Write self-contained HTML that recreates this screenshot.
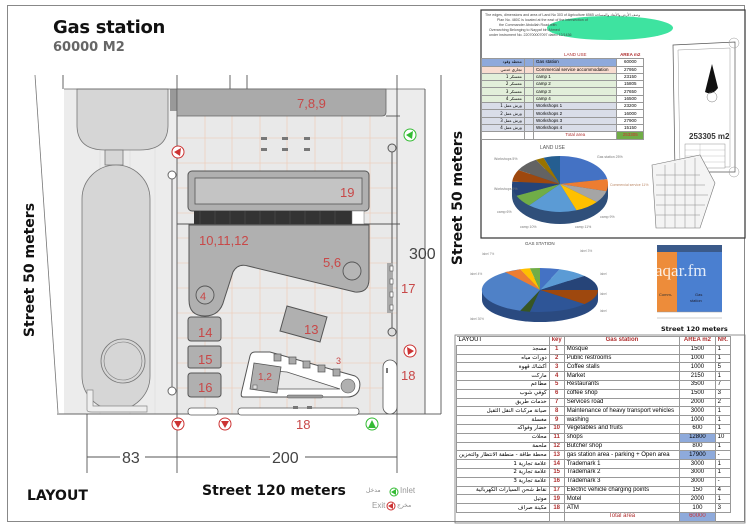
<!DOCTYPE html>
<html><head><meta charset="utf-8">
<style>
html,body{margin:0;padding:0;background:#fff;}
body{width:750px;height:530px;position:relative;overflow:hidden;font-family:"Liberation Sans","DejaVu Sans",sans-serif;}
.t{position:absolute;white-space:nowrap;}
table.g{position:absolute;border-collapse:collapse;font-size:6px;line-height:7px;}
table.g td{border:1px solid #999;padding:0 2px;height:7.8px;overflow:hidden;white-space:nowrap;}
table.s td{height:6.3px;line-height:6px;padding:0 2px;}
.ar{text-align:right;font-family:"DejaVu Sans",sans-serif;font-size:5.5px;}
.k{color:#b03030;font-weight:bold;text-align:center;}
.n{text-align:center;}
</style></head><body>
<svg width="750" height="530" style="position:absolute;left:0;top:0" xmlns="http://www.w3.org/2000/svg">
<rect x="7.5" y="5.5" width="737" height="516" fill="none" stroke="#888" stroke-width="1"/>
<rect x="64" y="89" width="361" height="325" fill="#ececec"/>
<rect x="177" y="116" width="220" height="298" fill="#e9e9e9"/>
<g stroke="#f0c8b0" stroke-width="0.6">
<line x1="205" y1="89" x2="205" y2="414"/><line x1="232" y1="89" x2="232" y2="414"/><line x1="260" y1="89" x2="260" y2="414"/><line x1="287" y1="89" x2="287" y2="414"/><line x1="315" y1="89" x2="315" y2="414"/><line x1="342" y1="89" x2="342" y2="414"/><line x1="370" y1="89" x2="370" y2="414"/>
<line x1="177" y1="138" x2="397" y2="138"/><line x1="177" y1="163" x2="397" y2="163"/><line x1="177" y1="188" x2="397" y2="188"/><line x1="177" y1="213" x2="397" y2="213"/><line x1="177" y1="238" x2="397" y2="238"/><line x1="177" y1="263" x2="397" y2="263"/><line x1="177" y1="288" x2="397" y2="288"/><line x1="177" y1="313" x2="397" y2="313"/><line x1="177" y1="338" x2="397" y2="338"/><line x1="177" y1="363" x2="397" y2="363"/><line x1="177" y1="388" x2="397" y2="388"/>
</g>
<g stroke="#dcdcdc" stroke-width="0.6"><line x1="100" y1="89" x2="100" y2="414"/><line x1="130" y1="89" x2="130" y2="414"/><line x1="155" y1="89" x2="155" y2="414"/></g>
<path d="M77,89 H168 V125 Q168,150 140,150 H105 Q77,150 77,125 Z" fill="#d6d6d6" stroke="#777" stroke-width="0.8"/>
<rect x="105" y="150" width="18" height="15" fill="#d6d6d6" stroke="#777" stroke-width="0.8"/>
<rect x="82" y="165" width="68" height="245" rx="34" fill="#d6d6d6" stroke="#777" stroke-width="0.8"/>
<circle cx="123" cy="361" r="22" fill="#d6d6d6" stroke="#777" stroke-width="0.8"/>
<circle cx="123" cy="361" r="19" fill="none" stroke="#777" stroke-width="0.6"/>
<path d="M87,390 V410 Q87,412 92,412 H147 V406 H93 V390 Z" fill="#eee" stroke="#888" stroke-width="0.7"/>
<rect x="170" y="89" width="7" height="22" fill="#999"/>
<line x1="35" y1="75" x2="58" y2="413" stroke="#777" stroke-width="0.8"/>
<line x1="57" y1="414" x2="441" y2="414" stroke="#666" stroke-width="1"/>
<line x1="64" y1="89" x2="425" y2="89" stroke="#666" stroke-width="0.8"/>
<g stroke="#555" stroke-width="0.9">
<line x1="63" y1="75" x2="63" y2="89"/><line x1="87" y1="414" x2="87" y2="473"/>
<line x1="177" y1="75" x2="177" y2="473"/><line x1="397" y1="75" x2="397" y2="473"/>
<line x1="425" y1="89" x2="425" y2="414"/><line x1="441" y1="75" x2="441" y2="414"/>
<line x1="230" y1="75" x2="230" y2="89"/><line x1="247" y1="75" x2="247" y2="89"/>
<line x1="87" y1="457" x2="120" y2="457"/><line x1="145" y1="457" x2="270" y2="457"/><line x1="305" y1="457" x2="397" y2="457"/>
<line x1="386" y1="116" x2="400" y2="116"/><line x1="177" y1="224" x2="400" y2="224"/>
</g>
<path d="M177,89 H386 V112 Q386,116 382,116 H177 Z" fill="#aaa" stroke="#666" stroke-width="0.8"/>
<g fill="#777"><rect x="261" y="137" width="6" height="3"/><rect x="282" y="137" width="6" height="3"/><rect x="304" y="137" width="6" height="3"/><rect x="261" y="148" width="6" height="3"/><rect x="282" y="148" width="6" height="3"/><rect x="304" y="148" width="6" height="3"/></g>
<rect x="188" y="171" width="181" height="40" rx="4" fill="#b0b0b0" stroke="#555" stroke-width="1"/>
<rect x="195" y="178" width="167" height="26" fill="#c4c4c4" stroke="#555" stroke-width="0.8"/>
<rect x="194" y="211" width="158" height="13" fill="#333"/>
<rect x="352" y="211" width="12" height="13" fill="#fff" stroke="#777" stroke-width="0.5"/>
<g stroke="#555" stroke-width="0.5"><line x1="200" y1="211" x2="200" y2="224"/><line x1="215" y1="211" x2="215" y2="224"/><line x1="230" y1="211" x2="230" y2="224"/><line x1="245" y1="211" x2="245" y2="224"/><line x1="260" y1="211" x2="260" y2="224"/><line x1="275" y1="211" x2="275" y2="224"/><line x1="290" y1="211" x2="290" y2="224"/><line x1="305" y1="211" x2="305" y2="224"/><line x1="320" y1="211" x2="320" y2="224"/><line x1="335" y1="211" x2="335" y2="224"/></g>
<path d="M189,225 H369 V279 Q369,293 355,292 L248,266 Q238,263 233,272 L224,300 Q220,316 205,316 Q189,316 189,300 Z" fill="#b0b0b0" stroke="#555" stroke-width="1"/>
<circle cx="205" cy="295" r="9" fill="#b6b6b6" stroke="#555" stroke-width="0.9"/>
<circle cx="352" cy="271" r="9" fill="#b6b6b6" stroke="#555" stroke-width="0.9"/>
<line x1="172" y1="175" x2="172" y2="390" stroke="#666" stroke-width="1"/>
<circle cx="172" cy="175" r="4" fill="#fff" stroke="#666"/><circle cx="172" cy="391" r="4" fill="#fff" stroke="#666"/>
<rect x="188" y="317" width="33" height="24" rx="3" fill="#b0b0b0" stroke="#555"/>
<rect x="188" y="346" width="33" height="22" rx="2" fill="#b0b0b0" stroke="#555"/>
<rect x="188" y="373" width="33" height="24" rx="3" fill="#b0b0b0" stroke="#555"/>
<polygon points="287,306 327,317 320,342 280,331" fill="#b0b0b0" stroke="#555"/>
<path d="M255,352 H270 L355,376 Q362,380 359,390 Q356,397 347,397 H243 Q240,397 242,390 L250,356 Q251,352 255,352 Z" fill="#fff" stroke="#555" stroke-width="1"/>
<path d="M262,370 L287,372 L340,389 L262,389 Z" fill="#e9e9e9" stroke="#555" stroke-width="0.8"/>
<polygon points="254,363 281,367 277,393 250,389" fill="#b0b0b0" stroke="#555" stroke-width="0.8"/>
<circle cx="348" cy="386" r="7" fill="#b0b0b0" stroke="#555" stroke-width="0.6"/>
<rect x="253" y="385" width="4" height="4" fill="#ddd" stroke="#555" stroke-width="0.5"/>
<g fill="#aaa" stroke="#555" stroke-width="0.7"><rect x="274" y="354" width="7" height="7"/><rect x="289" y="357" width="7" height="7"/><rect x="303" y="361" width="7" height="7"/><rect x="318" y="365" width="7" height="7"/><rect x="333" y="369" width="7" height="7"/></g>
<rect x="287" y="395" width="36" height="3" rx="1.5" fill="#999" stroke="#555" stroke-width="0.5"/>
<rect x="188" y="408" width="30" height="7" rx="3" fill="#fff" stroke="#555" stroke-width="0.8"/>
<rect x="238" y="408" width="121" height="7" rx="3" fill="#fff" stroke="#555" stroke-width="0.8"/>
<rect x="293" y="406" width="5" height="3" fill="#777"/><rect x="307" y="406" width="5" height="3" fill="#777"/>
<line x1="392" y1="147" x2="392" y2="332" stroke="#555" stroke-width="1"/>
<circle cx="392" cy="148" r="4" fill="#ddd" stroke="#555"/><circle cx="392" cy="332" r="4" fill="#ddd" stroke="#555"/>
<rect x="387" y="263" width="6" height="50" fill="#aaa"/>
<g fill="#fff" stroke="#555" stroke-width="0.6"><rect x="390" y="266" width="3" height="5"/><rect x="390" y="279" width="3" height="5"/><rect x="390" y="292" width="3" height="5"/><rect x="390" y="305" width="3" height="5"/></g>
<rect x="383" y="360" width="14" height="54" rx="7" fill="#fff" stroke="#555" stroke-width="0.8"/>
<rect x="386" y="368" width="2" height="5" fill="#777"/>
<g stroke-width="1">
<circle cx="178" cy="152" r="6" fill="#fff" stroke="#c33"/><polygon points="174,152 181,148 180,156" fill="#c33"/>
<circle cx="178" cy="424" r="6" fill="#fff" stroke="#c33"/><polygon points="174,421 182,421 178,428" fill="#c33"/>
<circle cx="225" cy="424" r="6" fill="#fff" stroke="#c33"/><polygon points="221,421 229,421 225,428" fill="#c33"/>
<circle cx="410" cy="351" r="6" fill="#fff" stroke="#c33"/><polygon points="414,351 407,347 408,355" fill="#c33"/>
<circle cx="410" cy="135" r="6" fill="#fff" stroke="#3b3"/><polygon points="406,135 413,131 412,139" fill="#3b3"/>
<circle cx="372" cy="424" r="6" fill="#fff" stroke="#3b3"/><polygon points="372,420 368,428 376,428" fill="#3b3"/>
<circle cx="394" cy="492" r="4" fill="#fff" stroke="#3b3"/><polygon points="391,492 396,489 396,495" fill="#3b3"/>
<circle cx="391" cy="506" r="4" fill="#fff" stroke="#c33"/><polygon points="388,506 393,503 393,509" fill="#c33"/>
</g>
<g fill="#c84848" font-family="Liberation Sans,sans-serif" font-size="13">
<text x="297" y="108">7,8,9</text>
<text x="340" y="197">19</text>
<text x="199" y="245">10,11,12</text>
<text x="323" y="267">5,6</text>
<text x="200" y="300" font-size="11">4</text>
<text x="198" y="337">14</text>
<text x="198" y="364">15</text>
<text x="198" y="392">16</text>
<text x="304" y="334">13</text>
<text x="258" y="380" font-size="10">1,2</text>
<text x="336" y="364" font-size="9">3</text>
<text x="401" y="293">17</text>
<text x="401" y="380">18</text>
<text x="296" y="429">18</text>
</g>
<g fill="#444" font-family="Liberation Sans,sans-serif" font-size="16">
<text x="122" y="463">83</text>
<text x="272" y="463">200</text>
<text x="409" y="259">300</text>
</g>
<rect x="481" y="10" width="264" height="228" fill="#fff" stroke="#333" stroke-width="1.2"/>
<ellipse cx="610" cy="28" rx="63" ry="12" fill="#3ee3a0"/>
<g font-size="3.6" fill="#444" font-family="Liberation Sans,sans-serif">
<text x="485" y="16">The edges, dimensions and area of Land No 303 of Agriculture 6565 وصف الأرض والأبعاد والمساحة</text>
<text x="497" y="21">Plan No. 480C is located at the east of the intersection of</text>
<text x="499" y="26">the Commander Abdullah Road with</text>
<text x="489" y="31">Overarching Belonging to Nayyaf bin Ahmed</text>
<text x="489" y="36">under instrument No. 220700007097 dated 12/1436</text>
</g>
<polygon points="673,45 735,42 735,172 675,172" fill="#fff" stroke="#555" stroke-width="0.7"/>
<polygon points="678,50 730,48 730,167 680,167" fill="none" stroke="#999" stroke-width="0.5"/>
<circle cx="734" cy="43" r="5" fill="none" stroke="#999" stroke-width="0.5"/><circle cx="734" cy="172" r="5" fill="none" stroke="#999" stroke-width="0.5"/>
<path d="M712,64 L705,92 Q712,96 718,88 Z" fill="#111"/>
<circle cx="712" cy="97" r="5" fill="none" stroke="#777" stroke-width="0.5"/>
<text x="689" y="139" font-size="8" font-weight="bold" fill="#333" font-family="Liberation Sans,sans-serif">253305 m2</text>
<rect x="685" y="144" width="40" height="24" fill="#fff" stroke="#777" stroke-width="0.4"/>
<g stroke="#999" stroke-width="0.3"><line x1="685" y1="150" x2="725" y2="150"/><line x1="685" y1="156" x2="725" y2="156"/><line x1="685" y1="162" x2="725" y2="162"/><line x1="700" y1="144" x2="700" y2="168"/></g>
<polygon points="652,165 700,155 715,183 700,228 656,228" fill="#f4f4f4" stroke="#777" stroke-width="0.6"/>
<g stroke="#888" stroke-width="0.5" fill="none"><path d="M656,175 H700 M656,185 H705 M656,195 H708 M656,205 H705 M656,215 H700 M665,165 V228 M675,163 V228 M685,160 V228 M695,158 V228"/></g>
<!-- land use pie: center 560,184 rx48 ry28 -->
<ellipse cx="560" cy="196" rx="48" ry="28" fill="#2f4f7a"/>
<rect x="512" y="184" width="96" height="12" fill="#2f4f7a"/>
<path d="M560,184 L560,156 A48,28 0 0 1 607.3,179.1 Z" fill="#4472c4"/>
<path d="M560,184 L607.3,179.1 A48,28 0 0 1 606.4,191.2 Z" fill="#ed7d31"/>
<path d="M560,184 L606.4,191.2 A48,28 0 0 1 596.8,202 Z" fill="#a5a5a5"/>
<path d="M560,184 L596.8,202 A48,28 0 0 1 576.4,210.3 Z" fill="#ffc000"/>
<path d="M560,184 L576.4,210.3 A48,28 0 0 1 529.1,205.4 Z" fill="#5b9bd5"/>
<path d="M560,184 L529.1,205.4 A48,28 0 0 1 516.5,195.8 Z" fill="#70ad47"/>
<path d="M560,184 L516.5,195.8 A48,28 0 0 1 512.2,181.6 Z" fill="#264478"/>
<path d="M560,184 L512.2,181.6 A48,28 0 0 1 518.4,170 Z" fill="#9e480e"/>
<path d="M560,184 L518.4,170 A48,28 0 0 1 536,159.8 Z" fill="#636363"/>
<path d="M560,184 L536,159.8 A48,28 0 0 1 543.6,157.7 Z" fill="#997300"/>
<path d="M560,184 L543.6,157.7 A48,28 0 0 1 560,156 Z" fill="#255e91"/>
<text x="540" y="149" font-size="5" fill="#555" font-family="Liberation Sans,sans-serif">LAND USE</text>
<g font-size="3.5" fill="#777" font-family="Liberation Sans,sans-serif"><text x="597" y="158">Gas station 25%</text><text x="610" y="186" fill="#b86">Commercial service 11%</text><text x="494" y="160">Workshops 5%</text><text x="494" y="190">Workshops 9%</text><text x="497" y="213">camp 6%</text><text x="520" y="228">camp 10%</text><text x="575" y="228">camp 11%</text><text x="600" y="218">camp 9%</text></g>
<ellipse cx="540" cy="300" rx="58" ry="22" fill="#2a4a80"/>
<rect x="482" y="290" width="116" height="10" fill="#2a4a80"/>
<path d="M540,290 L540,268 A58,22 0 0 1 559.8,269.3 Z" fill="#4472c4"/>
<path d="M540,290 L559.8,269.3 A58,22 0 0 1 584.4,275.9 Z" fill="#5b9bd5"/>
<path d="M540,290 L584.4,275.9 A58,22 0 0 1 598,290 Z" fill="#264478"/>
<path d="M540,290 L598,290 A58,22 0 0 1 584.4,304.1 Z" fill="#9e480e"/>
<path d="M540,290 L584.4,304.1 A58,22 0 0 1 529.9,311.7 Z" fill="#2e5597"/>
<path d="M540,290 L529.9,311.7 A58,22 0 0 1 520.2,310.7 Z" fill="#375623"/>
<path d="M540,290 L520.2,310.7 A58,22 0 0 1 520.2,269.3 Z" fill="#4f81c7"/>
<path d="M540,290 L520.2,269.3 A58,22 0 0 1 529.9,268.3 Z" fill="#ffc000"/>
<path d="M540,290 L529.9,268.3 A58,22 0 0 1 540,268 Z" fill="#70ad47"/>
<path d="M540,290 L520.2,269.3 A58,22 0 0 1 505,272 Z" fill="#ed7d31"/>
<text x="525" y="245" font-size="4.5" fill="#444" font-family="Liberation Sans,sans-serif">GAS STATION</text>
<g font-size="3.2" fill="#888" font-family="Liberation Sans,sans-serif"><text x="482" y="255">label 7%</text><text x="470" y="275">label 4%</text><text x="580" y="252">label 3%</text><text x="600" y="275">label</text><text x="600" y="295">label</text><text x="600" y="312">label</text><text x="470" y="320">label 30%</text></g>
<rect x="657" y="245" width="20" height="67" fill="#ed8c3a"/>
<rect x="677" y="245" width="45" height="67" fill="#4a7fd0"/>
<rect x="657" y="245" width="65" height="7" fill="#3b5a8a"/>
<line x1="657" y1="312" x2="722" y2="312" stroke="#999" stroke-width="0.5"/>
<line x1="657" y1="318" x2="722" y2="318" stroke="#999" stroke-width="0.5"/>
<text x="655" y="276" font-size="17" fill="#fff" fill-opacity="0.85" font-family="Liberation Serif,serif">aqar.fm</text>
<text x="659" y="296" font-size="4" fill="#333" font-family="Liberation Sans,sans-serif">Comm-</text>
<text x="695" y="296" font-size="4" fill="#223" font-family="Liberation Sans,sans-serif">Gas</text>
<text x="690" y="302" font-size="4" fill="#223" font-family="Liberation Sans,sans-serif">station</text>
<text x="661" y="331" font-size="6.5" font-weight="bold" fill="#111" font-family="DejaVu Sans,sans-serif">Street 120 meters</text>
<rect x="455" y="335" width="290" height="188" fill="none" stroke="#777" stroke-width="0.8"/>
</svg>

<div class="t" style="left:53px;top:17px;font-size:18px;font-weight:bold;color:#111;font-family:'DejaVu Sans',sans-serif;letter-spacing:-0.3px">Gas station</div>
<div class="t" style="left:53px;top:40px;font-size:13px;font-weight:bold;color:#666;font-family:'DejaVu Sans',sans-serif">60000 M2</div>
<div class="t" style="left:27px;top:488px;font-size:14px;font-weight:bold;color:#111;font-family:'DejaVu Sans',sans-serif">LAYOUT</div>
<div class="t" style="left:202px;top:483px;font-size:14px;font-weight:bold;color:#111;font-family:'DejaVu Sans',sans-serif">Street 120 meters</div>
<div class="t" style="left:-50px;top:262px;font-size:14px;font-weight:bold;color:#111;font-family:'DejaVu Sans',sans-serif;transform:rotate(-90deg);width:160px;text-align:center">Street 50 meters</div>
<div class="t" style="left:378px;top:190px;font-size:14px;font-weight:bold;color:#111;font-family:'DejaVu Sans',sans-serif;transform:rotate(-90deg);width:160px;text-align:center">Street 50 meters</div>
<div class="t" style="left:366px;top:487px;font-size:6px;color:#888;font-family:'DejaVu Sans',sans-serif">مدخل</div>
<div class="t" style="left:400px;top:486px;font-size:8px;color:#999">Inlet</div>
<div class="t" style="left:372px;top:501px;font-size:8px;color:#999">Exit</div>
<div class="t" style="left:397px;top:502px;font-size:6px;color:#888;font-family:'DejaVu Sans',sans-serif">مخرج</div>

<table class="g s" style="left:481px;top:52px;width:163px;font-size:4.5px">
<tr><td style="width:38px;border:none"></td><td style="width:5px;border:none"></td><td class="k" style="width:78px;border:none;font-weight:normal">LAND USE</td><td class="k" style="width:22px;border:none">AREA m2</td></tr>
<tr style="background:#8ea9db"><td class="ar" style="font-size:4px">محطة وقود</td><td></td><td>Gas station</td><td class="n" style="background:#fff">60000</td></tr>
<tr style="background:#f8dcd0"><td class="ar" style="font-size:4px">تجاري خدمي</td><td></td><td>Commercial service accommodation</td><td class="n" style="background:#fff">27950</td></tr>
<tr style="background:#e2efda"><td class="ar" style="font-size:4px">معسكر 1</td><td></td><td>camp 1</td><td class="n" style="background:#fff">23150</td></tr>
<tr style="background:#e2efda"><td class="ar" style="font-size:4px">معسكر 2</td><td></td><td>camp 2</td><td class="n" style="background:#fff">15805</td></tr>
<tr style="background:#e2efda"><td class="ar" style="font-size:4px">معسكر 3</td><td></td><td>camp 3</td><td class="n" style="background:#fff">27650</td></tr>
<tr style="background:#e2efda"><td class="ar" style="font-size:4px">معسكر 4</td><td></td><td>camp 4</td><td class="n" style="background:#fff">16500</td></tr>
<tr style="background:#d9dde8"><td class="ar" style="font-size:4px">ورش عمل 1</td><td></td><td>Workshops 1</td><td class="n" style="background:#fff">23200</td></tr>
<tr style="background:#d9dde8"><td class="ar" style="font-size:4px">ورش عمل 2</td><td></td><td>Workshops 2</td><td class="n" style="background:#fff">16000</td></tr>
<tr style="background:#d9dde8"><td class="ar" style="font-size:4px">ورش عمل 3</td><td></td><td>Workshops 3</td><td class="n" style="background:#fff">27900</td></tr>
<tr style="background:#d9dde8"><td class="ar" style="font-size:4px">ورش عمل 4</td><td></td><td>Workshops 4</td><td class="n" style="background:#fff">15150</td></tr>
<tr><td></td><td></td><td class="k" style="font-weight:normal">Total area</td><td class="n" style="background:#70ad47;color:#c33">253305</td></tr>
</table>

<table class="g" style="left:456px;top:336px;width:275px">
<tr><td style="width:88px;border-left:none">LAYOUT</td><td class="k" style="width:9px">key</td><td class="k" style="width:112px">Gas station</td><td class="k" style="width:32px">AREA m2</td><td class="k" style="width:10px">NR.</td></tr>
<tr><td class="ar">مسجد</td><td class="k">1</td><td>Mosque</td><td class="n">1500</td><td>1</td></tr>
<tr><td class="ar">دورات مياه</td><td class="k">2</td><td>Public restrooms</td><td class="n">1000</td><td>1</td></tr>
<tr><td class="ar">أكشاك قهوة</td><td class="k">3</td><td>Coffee stalls</td><td class="n">1000</td><td>5</td></tr>
<tr><td class="ar">ماركت</td><td class="k">4</td><td>Market</td><td class="n">2150</td><td>1</td></tr>
<tr><td class="ar">مطاعم</td><td class="k">5</td><td>Restaurants</td><td class="n">3500</td><td>7</td></tr>
<tr><td class="ar">كوفي شوب</td><td class="k">6</td><td>coffee shop</td><td class="n">1500</td><td>3</td></tr>
<tr><td class="ar">خدمات طريق</td><td class="k">7</td><td>Services road</td><td class="n">2000</td><td>2</td></tr>
<tr><td class="ar">صيانة مركبات النقل الثقيل</td><td class="k">8</td><td>Maintenance of heavy transport vehicles</td><td class="n">3000</td><td>1</td></tr>
<tr><td class="ar">مغسلة</td><td class="k">9</td><td>washing</td><td class="n">1000</td><td>1</td></tr>
<tr><td class="ar">خضار وفواكه</td><td class="k">10</td><td>Vegetables and fruits</td><td class="n">600</td><td>1</td></tr>
<tr><td class="ar">محلات</td><td class="k">11</td><td>shops</td><td class="n" style="background:#8eaadb">12800</td><td>10</td></tr>
<tr><td class="ar">ملحمة</td><td class="k">12</td><td>Butcher shop</td><td class="n">800</td><td>1</td></tr>
<tr><td class="ar">محطة طاقة - منطقة الانتظار والتخزين</td><td class="k">13</td><td>gas station area - parking + Open area</td><td class="n" style="background:#8eaadb">17900</td><td>-</td></tr>
<tr><td class="ar">علامة تجارية 1</td><td class="k">14</td><td>Trademark 1</td><td class="n">3000</td><td>1</td></tr>
<tr><td class="ar">علامة تجارية 2</td><td class="k">15</td><td>Trademark 2</td><td class="n">3000</td><td>1</td></tr>
<tr><td class="ar">علامة تجارية 3</td><td class="k">16</td><td>Trademark 3</td><td class="n">3000</td><td>-</td></tr>
<tr><td class="ar">نقاط شحن السيارات الكهربائية</td><td class="k">17</td><td>Electric vehicle charging points</td><td class="n">150</td><td>4</td></tr>
<tr><td class="ar">موتيل</td><td class="k">19</td><td>Motel</td><td class="n">2000</td><td>1</td></tr>
<tr><td class="ar">مكينة صراف</td><td class="k">18</td><td>ATM</td><td class="n">100</td><td>3</td></tr>
<tr><td style="border:none"></td><td></td><td class="k" style="font-weight:normal">Total area</td><td class="n" style="background:#8eaadb;color:#c33">60000</td><td style="border:none"></td></tr>
</table>
</body></html>
